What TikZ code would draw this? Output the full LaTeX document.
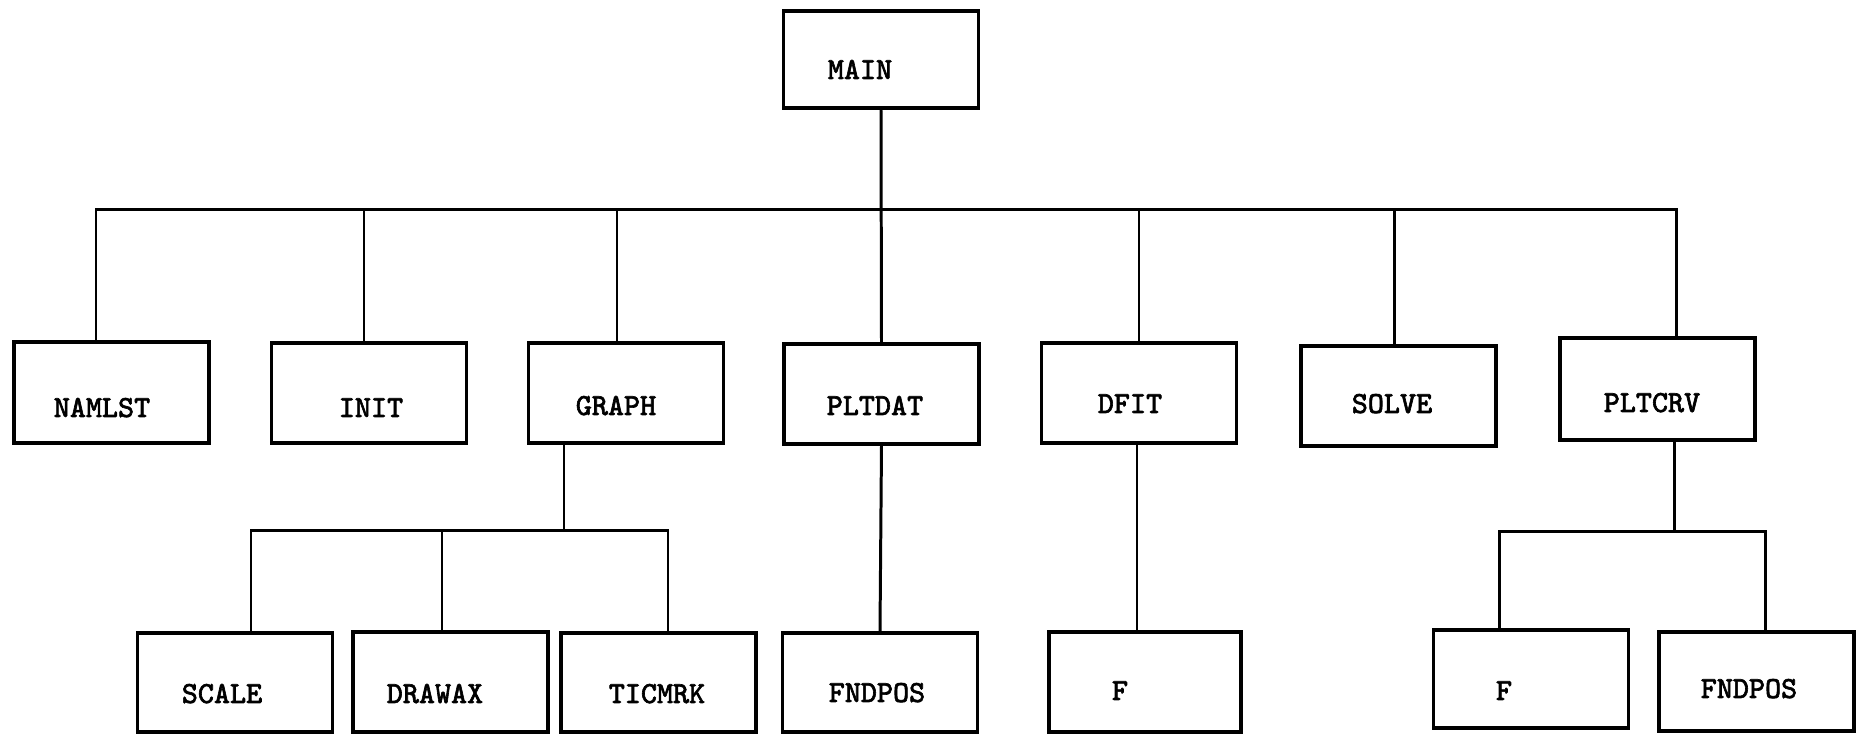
\documentclass[tikz,border=0pt]{standalone}
\usepackage{fontspec}
\newfontfamily\typew[FakeBold=2]{Latin Modern Mono}
\begin{document}
\begin{tikzpicture}[x=0.01cm,y=-0.01cm,
  box/.style={draw,line width=0.9pt,minimum width=1.95cm,minimum height=1.0cm,inner sep=0pt},
  lbl/.style={anchor=base,inner sep=0pt,font=\typew\fontsize{8.7}{10}\selectfont},
  conn/.style={line width=0.85pt}]
\useasboundingbox (0,0) rectangle (1859,734);
% boxes
\node[box,minimum height=0.97cm] (main) at (881,59.5) {};
\node[box,minimum height=1.01cm] (namlst) at (111.5,392.5) {};
\node[box] (init) at (369,393) {};
\node[box] (graph) at (626,393) {};
\node[box] (pltdat) at (881.5,394) {};
\node[box] (dfit) at (1139,393) {};
\node[box] (solve) at (1398.5,396) {};
\node[box,minimum height=1.02cm] (pltcrv) at (1657.5,389) {};
\node[box,minimum height=0.99cm] (scale) at (235,682.5) {};
\node[box] (drawax) at (450.5,682) {};
\node[box,minimum height=0.99cm] (ticmrk) at (658.5,682.5) {};
\node[box,minimum height=0.99cm] (fndpos) at (880,682.5) {};
\node[box,minimum width=1.92cm] (fa) at (1145,682) {};
\node[box,minimum height=0.98cm] (fb) at (1531,679) {};
\node[box,minimum height=0.99cm] (fndposb) at (1756.5,681.5) {};
% labels
\node[lbl] (tmain) at (860,79) {MAIN};
\node[lbl] (tnamlst) at (102,417) {NAMLST};
\node[lbl] (tinit) at (371,417) {INIT};
\node[lbl] (tgraph) at (616,415) {GRAPH};
\node[lbl] (tpltdat) at (875,415) {PLTDAT};
\node[lbl] (tdfit) at (1130,413) {DFIT};
\node[lbl] (tsolve) at (1392,413) {SOLVE};
\node[lbl] (tpltcrv) at (1652,412) {PLTCRV};
\node[lbl] (tscale) at (222,703) {SCALE};
\node[lbl] (tdrawax) at (435,703) {DRAWAX};
\node[lbl] (tticmrk) at (657,703) {TICMRK};
\node[lbl] (tfndpos) at (877,702) {FNDPOS};
\node[lbl] (tfa) at (1120,700) {F};
\node[lbl] (tfb) at (1504,700) {F};
\node[lbl] (tfndposb) at (1749,698) {FNDPOS};
% main bus
\coordinate (busL) at (96,210);
\coordinate (busR) at (1676,210);
\draw[conn] (busL |- namlst.north) -- (busL) -- (busR) -- (busR |- pltcrv.north);
\draw[conn] (main.south) -- (pltdat.north);
\coordinate (d2) at (364,210);
\coordinate (d3) at (617,210);
\coordinate (d5) at (1139,210);
\coordinate (d6) at (1394,210);
\draw[conn] (d2) -- (d2 |- init.north);
\draw[conn] (d3) -- (d3 |- graph.north);
\draw[conn] (d5) -- (d5 |- dfit.north);
\draw[conn] (d6) -- (d6 |- solve.north);
% GRAPH sub-tree
\coordinate (gs) at (564,531);
\coordinate (gl) at (251,531);
\coordinate (gm) at (442,531);
\coordinate (gr) at (668,531);
\draw[conn] (gs |- graph.south) -- (gs);
\draw[conn] (gl |- scale.north) -- (gl) -- (gr) -- (gr |- ticmrk.north);
\draw[conn] (gm) -- (gm |- drawax.north);
% PLTDAT, DFIT
\draw[conn] (pltdat.south) -- (fndpos.north);
\coordinate (ds) at (1137,500);
\draw[conn] (ds |- dfit.south) -- (ds |- fa.north);
% PLTCRV sub-tree
\coordinate (ps) at (1674,532);
\coordinate (pl) at (1499,532);
\coordinate (pr) at (1765,532);
\draw[conn] (ps |- pltcrv.south) -- (ps);
\draw[conn] (pl |- fb.north) -- (pl) -- (pr) -- (pr |- fndposb.north);
\end{tikzpicture}
\end{document}
